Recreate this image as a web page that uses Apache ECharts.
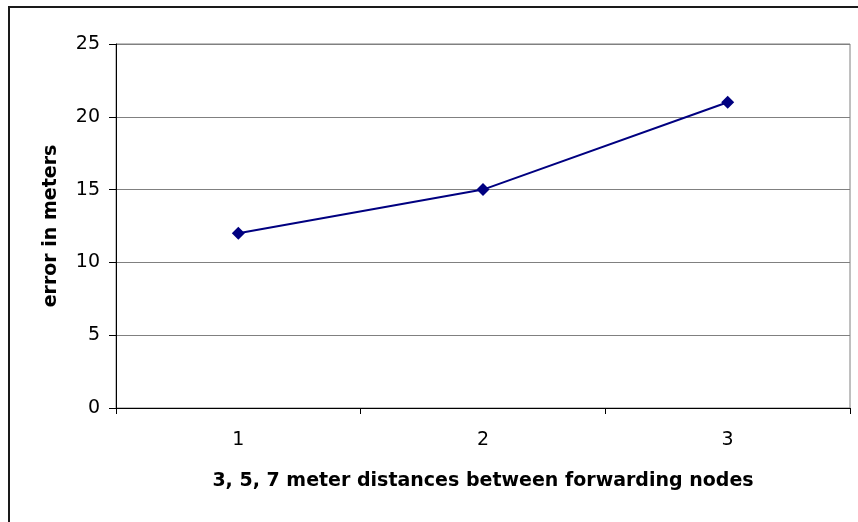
<!DOCTYPE html>
<html>
<head>
<meta charset="utf-8">
<style>
  html, body { margin: 0; padding: 0; background: #fff; }
  #chart { width: 858px; height: 522px; }
</style>
<script src="https://cdn.jsdelivr.net/npm/echarts@6/dist/echarts.min.js"></script>
</head>
<body>
<div id="chart"></div>
<script>
// Localization error for each forwarding-node spacing
const categories = ['1', '2', '3'];
const errorMeters = [12, 15, 21];
const yTicks = { min: 0, max: 25, interval: 5 };

const xTitle = '3, 5, 7 meter distances between forwarding nodes';
const yTitle = 'error in meters';

const chart = echarts.init(document.getElementById('chart'), null, { renderer: 'canvas' });

const font = '"DejaVu Sans", "Liberation Sans", Arial, sans-serif';

chart.setOption({
  animation: false,
  backgroundColor: '#ffffff',
  grid: { left: 116, right: 8, top: 44, bottom: 114, show: true, borderColor: '#808080', borderWidth: 1 },
  graphic: [
    {
      type: 'rect',
      shape: { x: 9, y: 7, width: 900, height: 560 },
      style: { fill: 'none', stroke: '#1a1a1a', lineWidth: 2 },
      silent: true
    }
  ],
  xAxis: {
    type: 'category',
    data: categories,
    boundaryGap: true,
    name: xTitle,
    nameLocation: 'middle',
    nameGap: 64,
    nameTextStyle: { fontFamily: font, fontSize: 19, fontWeight: 'bold', color: '#000' },
    axisLine: { lineStyle: { color: '#000', width: 1 } },
    axisTick: { show: true, alignWithLabel: false, length: 6, lineStyle: { color: '#000' } },
    axisLabel: { fontFamily: font, fontSize: 19, color: '#000', margin: 23 },
    splitLine: { show: false }
  },
  yAxis: {
    type: 'value',
    min: yTicks.min,
    max: yTicks.max,
    interval: yTicks.interval,
    name: yTitle,
    nameLocation: 'middle',
    nameGap: 55,
    nameTextStyle: { fontFamily: font, fontSize: 19, fontWeight: 'bold', color: '#000' },
    axisLine: { show: true, lineStyle: { color: '#000', width: 1 } },
    axisTick: { show: true, inside: false, length: 7, lineStyle: { color: '#000' } },
    axisLabel: { fontFamily: font, fontSize: 19, color: '#000', margin: 16 },
    splitLine: { show: true, lineStyle: { color: '#808080', width: 1 } }
  },
  series: [
    {
      type: 'line',
      data: errorMeters,
      symbol: 'diamond',
      symbolSize: 13,
      lineStyle: { color: '#000080', width: 2 },
      itemStyle: { color: '#000080' }
    }
  ]
});
</script>
</body>
</html>
